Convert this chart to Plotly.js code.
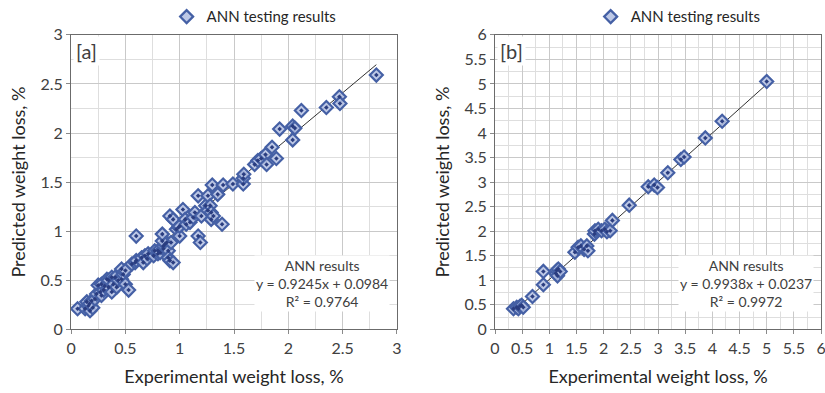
<!DOCTYPE html>
<html><head><meta charset="utf-8">
<script src="https://cdn.plot.ly/plotly-3.0.1.min.js"></script>
<style>html,body{margin:0;padding:0;background:#fff}#c{width:825px;height:393px}</style>
</head><body><div id="c"></div>
<script>
// Panel [a]
var expA = [0.06,0.13,0.145,0.16,0.175,0.19,0.20,0.17,0.22,0.235,0.25,0.27,0.28,0.28,0.30,0.31,0.33,0.345,0.345,0.375,0.375,0.39,0.405,0.42,0.435,0.465,0.48,0.465,0.50,0.50,0.53,0.56,0.59,0.60,0.65,0.665,0.68,0.70,0.71,0.76,0.77,0.80,0.80,0.82,0.85,0.85,0.865,0.88,0.895,0.895,0.91,0.94,0.92,0.84,
  0.60,0.84,0.91,0.94,0.97,0.99,1.00,1.00,1.03,1.05,1.06,1.095,1.125,1.14,1.17,1.19,1.20,1.17,1.24,1.26,1.26,1.28,1.29,1.29,1.31,1.30,1.35,1.39,1.40,1.49,1.585,1.585,1.59,
  1.69,1.72,1.75,1.79,1.80,1.85,1.89,1.92,2.04,2.04,2.06,2.12,2.35,2.47,2.475,2.81];
var predA = [0.21,0.21,0.28,0.24,0.19,0.29,0.22,0.26,0.31,0.36,0.45,0.38,0.46,0.345,0.40,0.44,0.51,0.43,0.50,0.53,0.38,0.46,0.53,0.43,0.50,0.51,0.56,0.615,0.46,0.60,0.40,0.665,0.68,0.70,0.73,0.68,0.75,0.72,0.77,0.75,0.80,0.77,0.80,0.78,0.82,0.85,0.87,0.885,0.80,0.73,0.70,0.68,0.885,0.90,
  0.95,0.97,1.155,1.12,1.02,1.04,0.95,1.05,1.22,1.12,1.07,1.09,1.14,1.19,0.95,0.885,1.155,1.36,1.26,1.21,1.36,1.26,1.12,1.19,1.155,1.47,1.375,1.07,1.47,1.48,1.48,1.54,1.58,
  1.68,1.72,1.74,1.78,1.68,1.855,1.74,2.04,1.93,2.07,2.05,2.23,2.26,2.37,2.30,2.59];
// Panel [b]
var expB = [0.34,0.40,0.43,0.46,0.49,0.52,0.69,0.89,0.89,1.12,1.135,1.15,1.165,1.20,1.47,1.53,1.58,1.64,1.69,1.71,1.83,1.84,1.90,1.96,2.02,2.06,2.12,2.16,2.47,2.82,2.93,2.99,3.18,3.42,3.48,3.87,4.18,5.00];
var predB = [0.42,0.45,0.42,0.47,0.49,0.45,0.67,0.91,1.18,1.14,1.20,1.09,1.23,1.18,1.57,1.67,1.70,1.63,1.70,1.60,1.94,2.01,2.04,2.01,2.04,1.99,2.01,2.22,2.53,2.905,2.94,2.89,3.19,3.46,3.51,3.90,4.24,5.05];
// Trendlines
var slopes = [0.9245, 0.9938];
var intercepts = [0.0984, 0.0237];
var eqLabels = ["ANN results<br>y = 0.9245x + 0.0984<br>R\u00b2 = 0.9764", "ANN results<br>y = 0.9938x + 0.0237<br>R\u00b2 = 0.9972"];
var panelLabels = ["[a]", "[b]"];
var axisMax = [3, 6];
var seriesName = "ANN testing results";
var xTitle = "Experimental weight loss, %";
var yTitle = "Predicted weight loss, %";

var FONT = "Lato, 'Open Sans', sans-serif";
var mk = {symbol:'diamond', size:10, color:'rgba(178,190,226,0.85)', line:{color:'#4560a5', width:2.2}};
var dot = {symbol:'diamond', size:3.5, color:'#2a3d80', line:{width:0}};

function trend(xs, i){
  var mn = Math.min.apply(null, xs), mx = Math.max.apply(null, xs);
  return {x:[mn,mx], y:[slopes[i]*mn+intercepts[i], slopes[i]*mx+intercepts[i]]};
}
var tA = trend(expA,0), tB = trend(expB,1);
var data = [
  {x:tA.x, y:tA.y, mode:'lines', line:{color:'#303030', width:1}, showlegend:false, xaxis:'x', yaxis:'y', hoverinfo:'skip'},
  {x:expA, y:predA, mode:'markers', marker:mk, name:seriesName, xaxis:'x', yaxis:'y', legend:'legend'},
  {x:expA, y:predA, mode:'markers', marker:dot, showlegend:false, xaxis:'x', yaxis:'y'},
  {x:tB.x, y:tB.y, mode:'lines', line:{color:'#303030', width:1}, showlegend:false, xaxis:'x2', yaxis:'y2', hoverinfo:'skip'},
  {x:expB, y:predB, mode:'markers', marker:mk, name:seriesName, xaxis:'x2', yaxis:'y2', legend:'legend2'},
  {x:expB, y:predB, mode:'markers', marker:dot, showlegend:false, xaxis:'x2', yaxis:'y2'}
];
function ax(max, dom, anchor, title, isX){
  return {
    domain: dom, anchor: anchor, range:[0,max], dtick:0.5, tick0:0,
    showgrid:true, gridcolor:'#c9c9c9', gridwidth:1,
    minor:{dtick:0.25, showgrid:true, gridcolor:'#dedede', gridwidth:1},
    showline:true, linecolor:'#6b6b6b', linewidth:1, mirror:true,
    ticks:'outside', ticklen:4, tickcolor:'#8a8a8a',
    zeroline:false, fixedrange:true, ticklabeloverflow:'allow',
    tickfont:{family:FONT, size:16, color:'#404040'},
    title:{text:title, font:{family:FONT, size:18, color:'#262626'}, standoff: isX?14:10}
  };
}
var yDom = [0.1628, 0.916];
var legendFont = {family:FONT, size:15, color:'#262626'};
var layout = {
  width:825, height:393, margin:{l:0,r:0,t:0,b:0},
  paper_bgcolor:'#fff', plot_bgcolor:'#fff',
  xaxis: ax(axisMax[0], [0.0861,0.4812], 'y', xTitle, true),
  yaxis: ax(axisMax[0], yDom, 'x', yTitle, false),
  xaxis2: ax(axisMax[1], [0.6,0.9952], 'y2', xTitle, true),
  yaxis2: ax(axisMax[1], yDom, 'x2', yTitle, false),
  legend:{x:0.308, xanchor:'center', y:0.962, yanchor:'middle', orientation:'h', font:legendFont, itemwidth:30, bgcolor:'rgba(0,0,0,0)'},
  legend2:{x:0.822, xanchor:'center', y:0.962, yanchor:'middle', orientation:'h', font:legendFont, itemwidth:30, bgcolor:'rgba(0,0,0,0)'},
  annotations:[
    {xref:'x domain', yref:'y domain', x:0.005, y:0.995, xanchor:'left', yanchor:'top', text:panelLabels[0], showarrow:false, bgcolor:'#fff', font:{family:FONT, size:20, color:'#404040'}, borderpad:2},
    {xref:'x2 domain', yref:'y2 domain', x:0.005, y:0.995, xanchor:'left', yanchor:'top', text:panelLabels[1], showarrow:false, bgcolor:'#fff', font:{family:FONT, size:20, color:'#404040'}, borderpad:2},
    {xref:'x domain', yref:'y domain', x:0.77, y:0.06, xanchor:'center', yanchor:'bottom', text:eqLabels[0], showarrow:false, bgcolor:'#fff', font:{family:FONT, size:14, color:'#404040'}, align:'center'},
    {xref:'x2 domain', yref:'y2 domain', x:0.77, y:0.06, xanchor:'center', yanchor:'bottom', text:eqLabels[1], showarrow:false, bgcolor:'#fff', font:{family:FONT, size:14, color:'#404040'}, align:'center'}
  ]
};
Plotly.newPlot('c', data, layout, {staticPlot:true, displayModeBar:false});
</script></body></html>
